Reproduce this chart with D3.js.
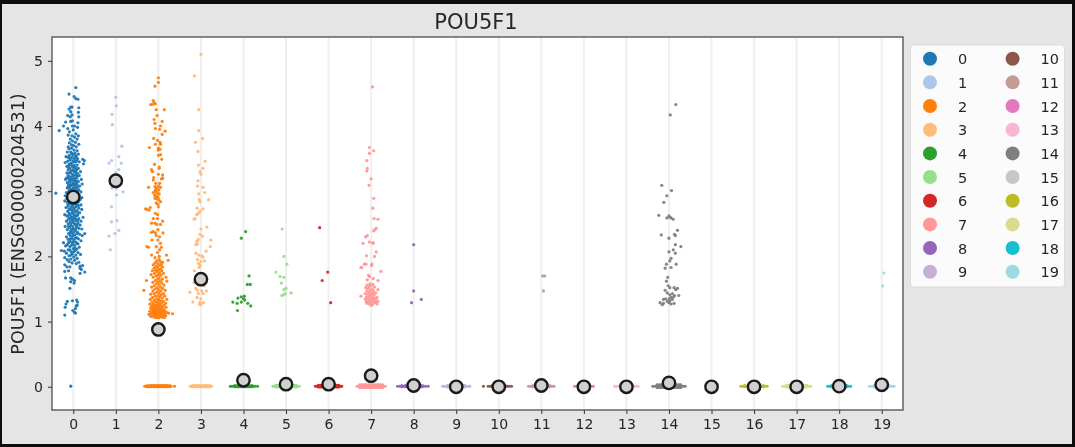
<!DOCTYPE html>
<html>
<head>
<meta charset="utf-8">
<script src="https://cdnjs.cloudflare.com/ajax/libs/d3/7.8.5/d3.min.js"></script>
<style>
  html, body { margin: 0; padding: 0; background: #0d0d0d; overflow: hidden; }
  text { font-family: "DejaVu Sans", sans-serif; fill: #262626; }
  svg { filter: blur(0.35px); }
</style>
</head>
<body>
<script>
// clusters and their colours (tab20)
let clusters = d3.range(20);
let colors = ['#1f77b4', '#aec7e8', '#ff7f0e', '#ffbb78', '#2ca02c', '#98df8a', '#d62728', '#ff9896', '#9467bd', '#c5b0d5',
  '#8c564b', '#c49c94', '#e377c2', '#f7b6d2', '#7f7f7f', '#c7c7c7', '#bcbd22', '#dbdb8d', '#17becf', '#9edae5'];
let yTicks = [0, 1, 2, 3, 4, 5];

// cluster means (the grey dots)
let means = [2.91, 3.16, 0.88, 1.65, 0.10, 0.04, 0.04, 0.17, 0.02, 0.0, 0.0, 0.02, 0.0, 0.0, 0.06, 0.0, 0.0, 0.0, 0.01, 0.03];

// cells: [jitter, expression]
let cluster0 = [[.06,4.59],[-.10,4.49],[.02,4.45],[.06,4.42],[.11,4.41],[-.06,4.29],[-.1,4.26],[-.03,4.29],[-.06,4.22],[.13,4.28],
  [.12,4.21],[-.13,4.16],[-.07,4.14],[-.03,4.17],[.13,4.14],[-.18,4.06],[-.06,4.07],[-.02,4.08],[.11,4.05],[-.02,4.0],[.03,4.0],[.1,3.98],
  [-.23,4.0],[-.33,3.93],[-.13,3.96],[-.09,3.91],[.0,3.94],[.06,3.88],[.12,3.85],[-.12,3.86],[-.03,3.85],[.03,3.83],[-.07,3.8],[.09,3.8],
  [-.02,3.77],[.05,3.75],[-.09,3.74],[.13,3.72],[-.04,3.71],[.01,3.7],[-.12,3.68],[.07,3.68],
  [-.1,3.65],[-.04,3.66],[.02,3.63],[.09,3.62],[-.14,3.6],[-.06,3.6],[.04,3.58],[.12,3.57],[-.01,3.56],[-.09,3.55],[.07,3.54],
  [-.17,3.53],[-.12,3.52],[-.03,3.52],[.03,3.5],[.1,3.5],[.22,3.49],[.26,3.47],[-.07,3.48],[.0,3.47],[-.13,3.46],[.06,3.45],[.14,3.45],
  [-.19,3.44],[-.05,3.43],[.24,3.42],[-.1,3.41],[.02,3.4],[.09,3.4],[-.15,3.38],[-.02,3.38],[.05,3.36],[.12,3.35],[-.08,3.35],[-.12,3.33],
  [.0,3.33],[.07,3.32],[-.05,3.31],[.03,3.3],[.17,3.3],[-.15,3.28],[-.09,3.28],[.1,3.27],[-.02,3.26],[.05,3.25],[-.12,3.24],[.14,3.24],
  [-.06,3.22],[.01,3.21],[.08,3.2],[-.16,3.2],[-.1,3.19],[.19,3.18],[-.03,3.17],[.04,3.16],[.12,3.15],[-.07,3.14],[-.14,3.13],[.0,3.13],
  [.07,3.12],[.21,3.11],[-.11,3.1],[-.04,3.09],[.03,3.09],[.15,3.08],[-.18,3.18],[-.08,3.07],[.1,3.06],[-.14,3.05],[.0,3.05],[.06,3.03],
  [-.05,3.02],[.13,3.02],[-.1,3.0],[.03,3.0],[.18,2.99],[-.16,2.98],[-.41,2.97],[-.02,2.97],[.08,2.96],[-.08,2.95],[.14,2.94],[-.19,2.93],
  [.02,2.93],[-.12,2.92],[.1,2.91],[.2,2.9],[-.15,2.89],[-.05,2.88],[.16,2.87],[.05,2.86],[-.1,2.86],[-.2,2.85],[.12,2.84],[-.14,2.83],
  [.02,2.82],[-.06,2.81],[.09,2.8],[.18,2.79],[-.02,2.78],[-.12,2.77],[.06,2.76],[-.17,2.75],[.13,2.74],[-.08,2.73],[.01,2.72],[.2,2.72],
  [-.04,2.71],[.09,2.7],[-.13,2.69],[.04,2.68],[.15,2.67],[-.09,2.66],[-.01,2.65],[-.2,2.64],[.1,2.63],[.06,2.62],[-.15,2.62],[-.05,2.6],
  [.23,2.6],[.01,2.59],[.13,2.58],[-.11,2.57],[-.03,2.56],[.07,2.55],[.18,2.54],[-.16,2.54],[-.07,2.53],[.0,2.52],[.11,2.51],[-.12,2.5],
  [.04,2.49],[.16,2.48],[-.04,2.47],[-.19,2.46],[.08,2.46],[-.09,2.44],[.13,2.43],[.0,2.42],[.2,2.42],[-.14,2.41],[.05,2.4],[-.06,2.39],
  [.1,2.37],[-.02,2.36],[.27,2.35],[-.11,2.35],[.15,2.34],[.03,2.33],[-.07,2.32],[.21,2.32],[-.16,2.3],[.08,2.29],[-.03,2.28],[.12,2.27],
  [-.12,2.26],[.01,2.25],[.18,2.24],[-.07,2.23],[.06,2.22],[-.23,2.21],[-.02,2.2],[.11,2.19],[-.14,2.18],[.03,2.17],[-.18,2.16],[-.08,2.15],
  [.14,2.14],[-.28,2.09],[.0,2.12],[.08,2.11],[-.12,2.1],[-.21,2.08],[.04,2.09],[-.05,2.07],[.11,2.06],[-.16,2.05],[-.02,2.04],[.17,2.03],
  [.06,2.02],[-.1,2.01],[-.2,1.98],[.01,1.99],[.09,1.97],[-.06,1.96],[-.14,1.95],[.03,1.94],[-.1,1.92],[.13,1.91],[-.03,1.9],[.07,1.89],
  [-.2,1.87],[.16,1.85],[-.15,1.84],[.22,1.86],[-.08,1.84],[.16,1.82],[.19,1.8],[-.2,1.77],[.16,1.74],[.27,1.76],[-.11,1.78],
  [-.18,1.67],[-.06,1.67],[-.02,1.65],[.03,1.63],[-.06,1.61],[.02,1.59],[-.08,1.51],[-.02,1.32],[.08,1.33],[.1,1.3],[-.14,1.31],[-.17,1.27],
  [-.19,1.22],[.09,1.25],[.05,1.2],[.03,1.14],[-.2,1.1],[.05,1.13],[-.01,1.17],[.07,1.24],[-.06,.01]];

// the packed middle of cluster 0
let cluster0Core = [[-.03,3.58],[.05,3.53],[-.08,3.5],[.01,3.45],[.08,3.47],[-.06,3.41],[.03,3.37],[-.1,3.37],[.09,3.34],[-.02,3.32],[-.07,3.29],[.06,3.29],
  [.0,3.24],[-.12,3.21],[.09,3.23],[-.04,3.19],[.03,3.18],[.07,3.15],[-.09,3.16],[.0,3.11],[-.06,3.1],[.09,3.1],[-.12,3.07],[.04,3.06],[-.02,3.03],
  [-.08,3.03],[.1,3.0],[.0,2.99],[-.13,2.97],[.06,2.98],[-.05,2.94],[.12,2.9],[.04,2.84],[-.08,2.83],[.0,2.8],[-.12,2.8],[.07,2.79],[-.04,2.76],[.12,2.78],
  [.02,2.74],[-.1,2.72],[.07,2.7],[-.02,2.68],[-.07,2.64],[.03,2.63],[.11,2.66],[-.12,2.62],[-.03,2.6],[.05,2.58],[-.09,2.58],[.0,2.55],[.1,2.55],
  [-.06,2.5],[.04,2.5],[.09,2.48],[-.01,2.45],[-.11,2.46],[.06,2.43],[-.04,2.41],[.02,2.38],[-.08,2.36],[.09,2.35],[-.01,2.32],[.05,2.28],[-.07,2.27],
  [.0,2.22],[-.11,2.21],[.09,2.2],[-.04,2.17],[.04,2.13],[-.08,2.1],[.01,2.07],[-.05,2.02]];

let cluster1 = [[0,4.44],[.01,4.31],[-.09,4.18],[-.08,4.02],[.14,3.69],[.07,3.53],[-.16,3.43],[-.1,3.47],[.13,3.43],[.07,3.33],[0,3.28],[-.09,3.05],
  [.01,3.04],[.17,2.99],[.02,2.94],[-.1,2.76],[-.1,2.53],[.03,2.55],[.07,2.40],[-.02,2.35],[-.16,2.31],[-.13,2.10]];

let cluster2 = [[0,4.74],[0,4.67],[-.08,4.61],[-.12,4.39],[-.1,4.36],[-.07,4.34],[-.18,4.33],[-.14,4.33],[-.05,4.25],[.14,4.25],[-.03,4.16],[-.1,4.10],
  [.09,4.07],[-.08,4.04],[.05,4.0],[-.07,3.96],[.03,3.95],[.16,3.92],[.09,3.87],[-.11,3.81],[-.02,3.78],[-.07,3.72],[.04,3.75],[.05,3.72],[-.21,3.67],
  [0,3.66],[.04,3.64],[0,3.63],[0,3.55],[.05,3.56],[.08,3.49],[-.09,3.41],[.02,3.37],[.02,3.35],[-.16,3.33],[-.14,3.3],[0,3.26],[-.11,3.21],[.1,3.25],
  [.07,3.19],[-.12,3.17],[.1,3.2],[-.06,3.12],[.03,3.12],[.05,3.06],[-.23,3.06],[-.08,3.07],[-.04,3.05],[0,3.08],[-.07,3.02],[.01,3.02],[-.12,2.98],
  [-.06,3.0],[-.03,2.97],[.02,2.96],[-.09,2.94],[-.05,2.92],[-.01,2.91],[-.08,2.89],[-.03,2.88],[.01,2.87],[.05,2.84],[-.05,2.82],[-.01,2.8],[-.19,2.75],
  [-.3,2.73],[-.22,2.71],[-.27,2.72],[.0,2.76],[-.07,2.66],[-.02,2.64],[-.02,2.58],[-.12,2.58],[.1,2.54],[-.16,2.51],[-.08,2.51],[-.04,2.49],[.05,2.49],
  [-.12,2.38],[-.16,2.37],[-.07,2.36],[-.01,2.41],[.11,2.36],[-.05,2.32],[.03,2.3],[-.15,2.25],[-.01,2.25],[.05,2.2],[-.05,2.15],[.07,2.14],[-.27,2.15],
  [-.23,2.14],[.03,2.1],[-.16,2.02],[.19,2.02],[.23,1.94],[-.02,2.06],[.02,2.0],[-.08,1.98],
  [.02,1.95],[-.04,1.93],[.05,1.92],[.1,1.91],[-.08,1.9],[-.01,1.89],[.07,1.88],[-.12,1.87],[.03,1.86],[-.05,1.85],[.1,1.84],[-.02,1.83],[-.1,1.82],
  [.06,1.81],[.01,1.8],[-.07,1.79],[-.14,1.78],[.08,1.78],[-.03,1.77],[.03,1.75],[.12,1.74],[-.09,1.74],[-.17,1.72],[.0,1.72],[.06,1.71],[-.05,1.7],
  [.18,1.68],[-.12,1.68],[.02,1.67],[-.02,1.65],[.09,1.65],[-.28,1.63],[-.07,1.63],[.04,1.62],[.2,1.62],[-.13,1.6],[-.01,1.6],[.08,1.59],[-.05,1.58],
  [.13,1.56],[.02,1.56],[-.1,1.55],[-.16,1.53],[.05,1.53],[-.03,1.52],[.1,1.51],[-.08,1.5],[.0,1.49],[-.34,1.48],[.16,1.48],[-.13,1.47],[.06,1.47],
  [-.04,1.45],[.02,1.44],[.12,1.43],[-.1,1.43],[-.18,1.42],[.07,1.41],[-.01,1.4],[-.07,1.39],[.15,1.39],[.03,1.38],[-.14,1.37],[.09,1.36],[-.04,1.35],
  [.01,1.34],[-.19,1.34],[.2,1.34],[-.1,1.33],[.05,1.32],[.12,1.31],[-.02,1.31],[-.15,1.3],[-.07,1.3],[.08,1.29],[.17,1.28],[.01,1.28],[-.12,1.27],
  [-.2,1.27],[-.04,1.26],[.05,1.26],[.13,1.25],[-.09,1.25],[-.16,1.24],[.0,1.24],[.08,1.23],[-.05,1.23],[.18,1.22],[-.12,1.22],[.03,1.21],[-.18,1.21],
  [-.02,1.2],[.11,1.2],[-.08,1.2],[.06,1.19],[-.14,1.19],[.01,1.18],[-.05,1.18],[.15,1.17],[-.1,1.17],[.09,1.17],[-.2,1.16],[-.02,1.16],[.04,1.15],
  [-.13,1.15],[.12,1.15],[-.07,1.14],[.19,1.14],[.01,1.14],[-.17,1.13],[-.04,1.13],[.07,1.13],[.33,1.12],[-.1,1.12],[.14,1.12],[.24,1.13],[-.22,1.11],
  [.03,1.11],[-.06,1.11],[.1,1.1],[-.14,1.1],[-.01,1.09],[.17,1.09],[-.08,1.09],[.05,1.08],[-.18,1.08],[.12,1.08],[-.03,1.07],[.08,1.07],[-.11,1.07],
  [.01,1.06],[-.06,1.06],[.14,1.06]];

let cluster3 = [[0,5.10],[-.15,4.77],[-.05,4.25],[-.05,3.93],[.04,3.81],[-.13,3.75],[-.07,3.61],[-.06,3.40],[.10,3.46],[.05,3.35],[-.02,3.30],[0,3.26],
  [-.07,3.16],[-.08,3.08],[.05,3.06],[.09,2.98],[-.05,2.96],[-.04,2.87],[-.02,2.84],[.18,2.87],[-.09,2.74],[.05,2.73],[-.02,2.69],[-.06,2.66],[-.1,2.64],
  [-.14,2.58],[-.16,2.57],[0,2.42],[.14,2.45],[-.02,2.34],[.03,2.31],[-.06,2.26],[-.1,2.23],[-.12,2.18],[-.08,2.19],[.23,2.25],[.22,2.15],[.12,2.08],
  [-.12,2.05],[-.05,2.02],[.02,2.01],[.05,1.99],[-.08,1.95],[.08,1.93],[0,1.92],[-.06,1.89],[-.02,1.86],[-.04,1.83],[-.15,1.78],[-.16,1.6],[-.1,1.62],
  [.12,1.6],[.08,1.55],[-.12,1.51],[-.26,1.45],[-.08,1.48],[.02,1.47],[.13,1.47],[-.06,1.43],[.05,1.43],[-.09,1.37],[-.19,1.30],[0,1.35],[-.02,1.30],
  [.06,1.29],[0,1.26],[-.04,1.27]];

let cluster4 = [[.05,2.38],[-.05,2.28],[.13,1.70],[.09,1.57],[.16,1.57],[-.13,1.36],[-.05,1.38],[.02,1.39],[0,1.35],[.03,1.33],[-.25,1.30],[-.15,1.28],
  [-.05,1.30],[.1,1.28],[.17,1.24],[-.14,1.17]];

let cluster5 = [[-.09,2.42],[-.05,2.0],[.02,1.88],[-.24,1.76],[-.14,1.69],[-.05,1.68],[-.11,1.59],[-.02,1.5],[0,1.51],[-.05,1.49],[.12,1.44],[-.02,1.43],
  [-.1,1.4],[-.06,1.41]];

let cluster6 = [[-.21,2.44],[-.02,1.76],[-.15,1.63],[.05,1.29]];

let cluster7 = [[.03,4.60],[-.04,3.67],[.06,3.62],[-.04,3.58],[-.10,3.47],[-.09,3.35],[-.1,3.31],[0,3.19],[-.05,3.09],[.06,2.89],[.04,2.74],[.07,2.58],
  [.16,2.57],[.12,2.43],[.09,2.41],[.06,2.39],[-.09,2.32],[-.13,2.30],[-.19,2.2],[-.04,2.22],[.04,2.21],[.05,2.2],[.12,2.07],[-.11,2.01],[.08,2.0],
  [-.16,1.88],[-.12,1.88],[.02,1.88],[.01,1.86],[-.24,1.83],[-.22,1.83],[.23,1.77],[-.06,1.71],[-.04,1.69],[.05,1.66],[-.09,1.64],[.16,1.63],
  [-.03,1.58],[-.1,1.56],[.04,1.57],[-.05,1.54],[.0,1.55],[.08,1.53],[-.13,1.52],[-.07,1.51],[.02,1.5],[.16,1.49],[-.02,1.48],[-.1,1.47],[.06,1.47],
  [-.05,1.45],[.03,1.44],[.11,1.44],[-.14,1.43],[-.08,1.42],[.0,1.42],[.07,1.41],[-.03,1.4],[-.24,1.39],[-.11,1.38],[.04,1.38],[.14,1.37],[-.06,1.37],
  [.09,1.36],[-.01,1.36],[-.14,1.35],[.05,1.34],[-.09,1.34],[.12,1.33],[-.04,1.33],[.02,1.32],[-.12,1.31],[.16,1.31],[.07,1.3],[-.06,1.3],[-.01,1.29],
  [.1,1.29],[-.1,1.28],[.04,1.27],[.14,1.27],[-.04,1.27],[.01,1.25]];

let cluster8 = [[0,2.18],[0,1.47],[.18,1.34],[-.05,1.29]];
let cluster9 = [];
let cluster10 = [];
let cluster11 = [[.03,1.70],[.08,1.70],[.05,1.47]];
let cluster12 = [];
let cluster13 = [];

let cluster14 = [[.16,4.33],[.03,4.17],[-.17,3.09],[.06,3.01],[-.05,2.93],[-.12,2.83],[-.24,2.63],[0,2.62],[-.05,2.59],[.02,2.60],[.05,2.59],[.1,2.57],
  [.2,2.40],[.13,2.34],[.15,2.32],[-.18,2.33],[0,2.28],[.15,2.18],[.28,2.15],[.1,2.10],[0,2.07],[.15,2.05],[.05,1.97],[.02,1.93],[-.06,1.88],[.17,1.88],
  [-.09,1.82],[.05,1.83],[-.03,1.68],[-.06,1.62],[-.02,1.55],[.02,1.52],[.12,1.52],[.2,1.51],[.16,1.49],[-.09,1.48],[-.04,1.44],[.02,1.41],[.08,1.43],
  [.13,1.40],[.23,1.40],[-.13,1.34],[-.08,1.35],[0,1.35],[.05,1.37],[.11,1.38],[-.21,1.29],[-.16,1.26],[-.13,1.28],[0,1.29],[.05,1.27],[.12,1.28],
  [-.04,1.31],[.02,1.32],[.08,1.34]];

let cluster15 = [];
let cluster16 = [];
let cluster17 = [];
let cluster18 = [];
let cluster19 = [[.05,1.745],[.02,1.545]];

let upperPoints = [cluster0.concat(cluster0Core), cluster1, cluster2, cluster3, cluster4, cluster5, cluster6, cluster7, cluster8, cluster9,
  cluster10, cluster11, cluster12, cluster13, cluster14, cluster15, cluster16, cluster17, cluster18, cluster19];

// cells with no expression: jitter of each one, they pile up into the flat bands
let zeroBands = [
  [],
  [],
  [-.32,-.28,-.24,-.2,-.16,-.12,-.08,-.04,0,.04,.08,.12,.16,.2,.24,.28,.3,.38],
  [-.25,-.21,-.17,-.13,-.09,-.05,0,.05,.09,.13,.17,.21,.25],
  [-.31,-.27,-.22,-.17,-.12,-.08,-.04,0,.04,.08,.12,.17,.22,.27,.33],
  [-.31,-.26,-.21,-.16,-.11,-.06,0,.06,.11,.16,.21,.26,.31],
  [-.31,-.27,-.22,-.17,-.12,-.06,0,.06,.12,.17,.22,.27,.31],
  [-.33,-.28,-.23,-.18,-.13,-.08,-.04,0,.04,.08,.13,.18,.23,.28,.33],
  [-.38,-.33,-.28,-.23,-.18,-.13,-.08,0,.08,.13,.18,.23,.28,.34],
  [-.32,-.27,-.22,-.17,-.12,-.07,0,.07,.12,.17,.22,.27,.32],
  [-.36,-.25,-.2,-.15,-.1,-.05,0,.05,.1,.15,.2,.25,.3],
  [-.3,-.25,-.2,-.15,-.1,-.05,0,.05,.1,.15,.2,.25,.3],
  [-.22,-.17,-.12,-.07,0,.07,.12,.17,.22],
  [-.28,-.23,-.18,-.12,-.06,0,.06,.12,.18,.23,.28],
  [-.38,-.33,-.28,-.23,-.18,-.13,-.08,-.04,0,.04,.08,.13,.18,.23,.28,.33,.38],
  [],
  [-.31,-.26,-.21,-.16,-.11,-.05,0,.05,.11,.16,.21,.26,.31],
  [-.33,-.28,-.22,-.17,-.11,-.05,0,.05,.11,.17,.22,.28,.33],
  [-.27,-.22,-.17,-.11,-.05,0,.05,.11,.17,.22,.27],
  [-.29,-.24,-.18,-.12,-.06,0,.06,.12,.18,.24,.29]
];
// inner part of a band is thicker, drawn at two levels
let bandCores = [
  [],
  [],
  [-.26,-.2,-.16,-.12,-.08,-.04,0,.04,.08,.12,.16,.2,.26],
  [-.2,-.15,-.1,-.05,0,.05,.1,.15,.2],
  [-.2,-.14,-.1,-.05,0,.05,.1,.14,.2],
  [-.24,-.2,-.15,-.1,-.05,0,.05,.1,.15,.2,.24],
  [-.24,-.2,-.16,-.1,-.05,0,.05,.1,.16,.2,.24],
  [-.27,-.23,-.2,-.16,-.13,-.1,-.06,-.03,0,.03,.06,.1,.13,.16,.2,.23,.27],
  [-.28,-.2,-.15,-.1,-.05,0,.05,.1,.15,.2],
  [-.2,-.15,-.1,-.05,0,.05,.1,.15,.2],
  [-.15,-.1,-.05,0,.05,.1,.15],
  [-.2,-.13,-.08,-.03,.03,.08,.13,.2],
  [-.12,-.06,0,.06,.12],
  [-.12,-.06,0,.06,.12],
  [-.28,-.25,-.21,-.17,-.13,-.1,-.07,-.04,0,.04,.07,.1,.13,.17,.21,.25,.28],
  [],
  [-.22,-.15,-.1,-.05,0,.05,.1,.15,.22],
  [-.24,-.2,-.15,-.1,-.05,0,.05,.1,.15,.2,.24],
  [-.18,-.12,-.06,0,.06,.12,.18],
  [-.18,-.12,-.06,0,.06,.12,.18]
];
let bandThickness = [0, 0, .008, .008, .01, .013, .012, .022, .01, .012, .008, .01, .007, .007, .022, 0, .011, .012, .01, .01];

let width = 1075;
let height = 447;
let margin = { left: 52, right: 903, top: 37, bottom: 410 };

let svg = d3.select('body')
  .append('svg')
  .attr('width', width)
  .attr('height', height)
  .style('display', 'block');

// grey figure background inside the dark frame
svg.append('rect')
  .attr('x', 2).attr('y', 4)
  .attr('width', 1070).attr('height', 440)
  .attr('fill', '#e5e5e5');

svg.append('rect')
  .attr('x', margin.left).attr('y', margin.top)
  .attr('width', margin.right - margin.left).attr('height', margin.bottom - margin.top)
  .attr('fill', '#ffffff');

// scale
let x = d3.scaleLinear()
  .domain([-0.5, 19.5])
  .range([margin.left, margin.right]);
let y = d3.scaleLinear()
  .domain([-0.356, 5.365])
  .range([margin.bottom, margin.top]);

// vertical grid
svg.append('g')
  .selectAll('line')
  .data(clusters)
  .enter().append('line')
  .attr('x1', function (d) { return x(d); })
  .attr('x2', function (d) { return x(d); })
  .attr('y1', margin.top)
  .attr('y2', margin.bottom)
  .attr('stroke', '#efefef')
  .attr('stroke-width', 2);

// flat bands at zero
clusters.forEach(function (c) {
  let cells = zeroBands[c].map(function (j) { return [j, 0.01]; });
  bandCores[c].forEach(function (j) {
    cells.push([j, 0.01 - bandThickness[c]]);
    cells.push([j, 0.01 + bandThickness[c]]);
  });
  svg.append('g')
    .selectAll('circle')
    .data(cells)
    .enter().append('circle')
    .attr('cx', function (d) { return x(c + d[0]); })
    .attr('cy', function (d) { return y(d[1]); })
    .attr('r', 1.5)
    .attr('fill', colors[c]);
});

// strip points
clusters.forEach(function (c) {
  svg.append('g')
    .selectAll('circle')
    .data(upperPoints[c])
    .enter().append('circle')
    .attr('cx', function (d) { return x(c + d[0]); })
    .attr('cy', function (d) { return y(d[1]); })
    .attr('r', 1.6)
    .attr('fill', colors[c])
    .attr('fill-opacity', 0.95);
});

// means
svg.append('g')
  .selectAll('circle')
  .data(means)
  .enter().append('circle')
  .attr('cx', function (d, i) { return x(i); })
  .attr('cy', function (d) { return y(d); })
  .attr('r', 6.2)
  .attr('fill', '#d0d0d0')
  .attr('stroke', '#1a1a1a')
  .attr('stroke-width', 2.4);

let xAxis = d3.axisBottom(x).tickValues(clusters).tickFormat(d3.format('d')).tickSize(4).tickPadding(5);
let yAxis = d3.axisLeft(y).tickValues(yTicks).tickFormat(d3.format('d')).tickSize(4).tickPadding(5);

let xG = svg.append('g')
  .attr('transform', 'translate(0,' + margin.bottom + ')')
  .call(xAxis);
let yG = svg.append('g')
  .attr('transform', 'translate(' + margin.left + ',0)')
  .call(yAxis);
xG.selectAll('text').style('font-size', '14px');
yG.selectAll('text').style('font-size', '14px');
xG.select('.domain').remove();
yG.select('.domain').remove();
xG.selectAll('line').attr('stroke', '#333333');
yG.selectAll('line').attr('stroke', '#333333');

// spines
svg.append('rect')
  .attr('x', margin.left).attr('y', margin.top)
  .attr('width', margin.right - margin.left).attr('height', margin.bottom - margin.top)
  .attr('fill', 'none')
  .attr('stroke', '#4d4d4d')
  .attr('stroke-width', 1.3);

svg.append('text')
  .attr('x', 476)
  .attr('y', 29)
  .attr('text-anchor', 'middle')
  .style('font-size', '21px')
  .text('POU5F1');

svg.append('text')
  .attr('transform', 'translate(24,224) rotate(-90)')
  .attr('text-anchor', 'middle')
  .style('font-size', '17.6px')
  .text('POU5F1 (ENSG00000204531)');

// legend, two columns of ten
let legend = svg.append('g');
legend.append('rect')
  .attr('x', 910.5).attr('y', 45)
  .attr('width', 154).attr('height', 242)
  .attr('rx', 3)
  .attr('fill', '#fbfbfb')
  .attr('stroke', '#dcdcdc');

let legendRows = legend.selectAll('g')
  .data(clusters)
  .enter().append('g')
  .attr('transform', function (d) {
    let col = d < 10 ? 0 : 1;
    return 'translate(' + (930 + col * 82.6) + ',' + (58.7 + (d % 10) * 23.67) + ')';
  });
legendRows.append('circle')
  .attr('r', 7)
  .attr('fill', function (d) { return colors[d]; });
legendRows.append('text')
  .attr('x', 28)
  .attr('y', 5.5)
  .style('font-size', '14.5px')
  .text(function (d) { return d; });
</script>
</body>
</html>
